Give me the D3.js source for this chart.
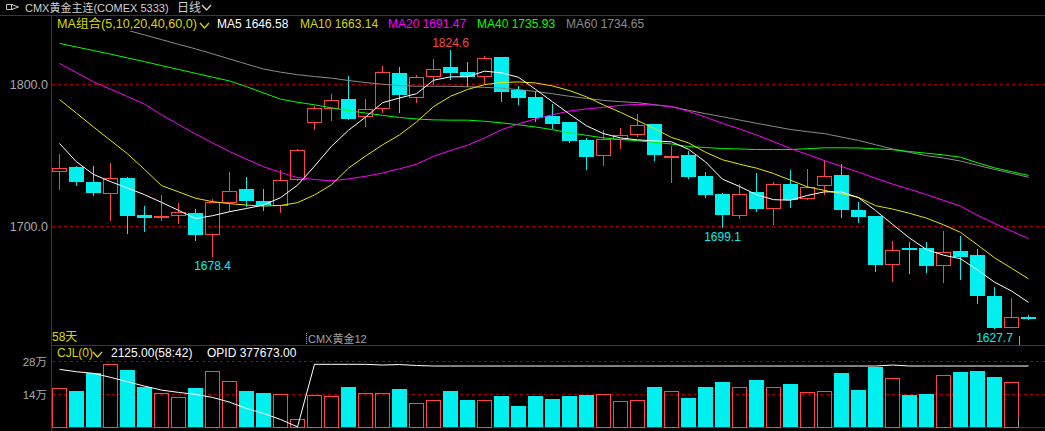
<!DOCTYPE html>
<html><head><meta charset="utf-8">
<script src="https://cdn.jsdelivr.net/npm/d3@7"></script>
<style>
html,body{margin:0;padding:0;background:#000;overflow:hidden;}
svg{display:block;}
text{font-family:"Liberation Sans","Noto Sans CJK SC",sans-serif;}
</style></head><body>
<svg id="c" width="1045" height="431"></svg>
<script>
// ---------- data ----------
const opens  = [1738.7,1741.8,1731.2,1723.0,1734.2,1708.2,1706.1,1707.3,1709.2,1693.7,1716.9,1726.3,1717.8,1714.5,1732.4,1773.2,1782.4,1789.6,1777.2,1782.4,1808.0,1790.8,1805.6,1812.2,1808.7,1805.4,1819.2,1796.0,1791.1,1777.9,1773.5,1760.8,1749.7,1761.0,1764.5,1772.0,1748.3,1750.2,1735.4,1723.2,1707.5,1724.2,1712.4,1729.8,1719.7,1728.2,1736.1,1711.5,1707.3,1672.9,1685.2,1684.7,1672.2,1682.6,1679.8,1650.9,1628.6,1636.3];
const highs  = [1751.4,1742.5,1742.5,1744.4,1734.9,1714.3,1722.0,1716.2,1712.4,1719.7,1738.2,1734.9,1726.3,1739.6,1754.9,1784.9,1793.2,1805.8,1789.6,1812.9,1812.2,1807.0,1817.8,1824.6,1815.7,1820.1,1819.6,1798.8,1795.5,1786.6,1773.8,1762.0,1767.8,1769.7,1779.1,1772.5,1756.5,1753.0,1738.2,1723.6,1729.8,1737.5,1731.0,1739.6,1740.4,1746.7,1743.7,1717.1,1707.6,1689.6,1688.9,1688.9,1696.7,1693.2,1684.5,1657.3,1649.7,1637.5];
const lows   = [1725.6,1728.6,1721.5,1703.9,1694.6,1696.2,1703.9,1702.1,1689.9,1678.4,1710.3,1713.8,1711.0,1709.2,1731.8,1768.3,1774.4,1775.0,1770.1,1779.6,1780.0,1787.0,1800.0,1803.5,1798.3,1800.2,1787.7,1785.4,1773.7,1768.5,1758.9,1739.6,1742.5,1754.6,1762.7,1746.2,1730.7,1733.1,1720.1,1699.1,1705.1,1710.1,1700.9,1713.1,1718.5,1722.0,1706.1,1702.5,1668.0,1661.0,1666.6,1667.3,1660.3,1662.2,1645.5,1627.7,1628.2,1634.5];
const closes = [1741.3,1731.4,1723.7,1734.0,1707.5,1706.1,1707.3,1709.9,1694.1,1717.6,1725.1,1718.0,1715.2,1732.6,1753.7,1783.1,1789.4,1775.8,1782.4,1808.5,1792.7,1805.6,1810.6,1808.2,1805.4,1819.0,1794.8,1790.6,1776.5,1772.3,1760.3,1749.0,1761.3,1764.1,1771.8,1750.4,1749.5,1734.9,1722.0,1708.2,1722.7,1712.2,1729.6,1719.0,1727.7,1735.4,1711.7,1706.8,1672.9,1683.8,1684.2,1672.2,1681.7,1678.4,1651.1,1628.6,1636.1,1635.0];

const ma5  = [1758.5,1745.5,1736.7,1731.6,1727.1,1722.4,1717.0,1711.4,1705.6,1707.6,1710.4,1712.7,1715.1,1720.3,1729.1,1742.5,1756.5,1767.8,1777.0,1787.2,1790.5,1793.5,1803.0,1805.4,1805.4,1809.4,1808.2,1805.1,1796.6,1787.8,1779.2,1770.9,1765.4,1762.4,1761.0,1760.3,1759.6,1754.4,1745.5,1733.3,1728.2,1722.4,1718.9,1718.5,1721.9,1724.4,1724.4,1720.3,1711.3,1701.5,1691.9,1683.8,1679.8,1677.3,1669.4,1660.8,1654.6,1646.58];
const ma10 = [1789.4,1779.8,1770.1,1760.6,1751.2,1740.2,1728.8,1724.4,1719.9,1717.5,1716.1,1715.1,1714.4,1714.8,1716.8,1722.2,1729.4,1741.1,1749.6,1757.5,1764.5,1773.6,1784.4,1791.7,1796.5,1799.9,1801.4,1801.8,1801.1,1799.0,1795.7,1791.3,1785.6,1780.4,1774.7,1768.9,1762.7,1758.9,1752.3,1747.0,1743.9,1741.1,1737.3,1732.6,1727.9,1725.4,1723.1,1720.5,1714.7,1712.3,1709.3,1705.9,1701.2,1695.9,1687.0,1678.0,1670.6,1663.14];
const ma20 = [1814.8,1808.3,1801.8,1796.7,1791.5,1786.2,1778.7,1771.8,1765.1,1758.9,1752.8,1747.4,1742.1,1738.1,1734.4,1733.1,1732.2,1733.5,1735.3,1737.7,1740.6,1743.9,1749.4,1753.5,1757.2,1762.3,1768.1,1772.3,1775.8,1778.7,1781.3,1782.8,1783.9,1785.3,1786.0,1785.5,1784.4,1781.1,1777.0,1772.7,1768.7,1764.5,1759.8,1754.9,1750.7,1746.4,1742.3,1738.2,1734.0,1729.9,1726.2,1722.5,1718.4,1714.3,1707.9,1702.1,1696.8,1691.47];
const ma40 = [1828.9,1826.4,1823.9,1821.4,1818.7,1816.1,1813.3,1810.6,1807.9,1805.2,1802.5,1798.5,1794.1,1789.7,1787.5,1785.7,1783.6,1781.6,1779.9,1778.3,1776.8,1775.7,1775.1,1774.9,1774.9,1774.1,1773.0,1771.6,1770.1,1768.2,1766.0,1764.2,1762.4,1761.3,1760.4,1759.3,1758.1,1756.3,1755.6,1754.9,1754.6,1754.2,1754.2,1754.2,1754.8,1755.4,1755.4,1755.3,1754.7,1754.1,1752.8,1751.6,1750.4,1748.8,1744.9,1741.3,1738.6,1735.93];
const ma60 = [1851.6,1848.2,1844.9,1841.5,1838.2,1834.9,1831.6,1828.3,1825.1,1821.6,1818.0,1814.4,1810.9,1808.7,1806.9,1805.6,1804.5,1802.8,1801.4,1800.2,1799.2,1798.8,1798.8,1798.7,1798.4,1798.0,1797.4,1796.4,1795.1,1793.5,1791.7,1790.2,1788.8,1787.9,1787.2,1785.8,1784.4,1781.8,1779.5,1777.3,1775.0,1772.7,1770.5,1768.3,1766.8,1765.4,1763.0,1760.6,1757.6,1754.6,1752.2,1749.9,1748.2,1746.1,1743.1,1740.2,1737.5,1734.65];

const volumes = [165000,154000,230000,267000,243000,170000,144000,127000,165000,238000,195000,154000,146000,140000,34000,136000,132000,171000,144000,144000,162000,102000,115000,154000,116000,115000,133000,90000,133000,120000,133000,137000,141000,110000,115000,171000,153000,124000,171000,192000,170000,201000,170000,184000,148000,153000,230000,158000,256000,208000,137000,141000,221000,235000,239000,213000,191000,2125];
const openInterest = [357400,342600,332700,308100,281000,254500,229800,215700,203300,184800,155900,117100,86300,49300,3700,388200,388200,388200,388200,383900,387000,380800,377700,377700,377700,377700,377700,377700,377700,377700,377700,377700,377700,377700,377700,377700,377700,377700,377700,377700,377700,377700,377700,377700,377700,377700,377700,377700,377700,383900,377700,377700,377700,377700,377700,377700,377700,377673];

const priceTicks = [1700, 1800];
const volumeTicks = [140000, 280000];
const extremeLabels = [
  {i: 23, value: 1824.6, kind: "high"},
  {i: 9,  value: 1678.4, kind: "low"},
  {i: 39, value: 1699.1, kind: "low"},
  {i: 55, value: 1627.7, kind: "low"}
];
const maSeries = [
  {name: "MA5",  values: ma5,  color: "#ffffff"},
  {name: "MA10", values: ma10, color: "#e6e600"},
  {name: "MA20", values: ma20, color: "#ff00ff"},
  {name: "MA40", values: ma40, color: "#00ff00"},
  {name: "MA60", values: ma60, color: "#8c8c8c"}
];

// ---------- layout ----------
const W = 1045, H = 431;
const RED = "#ff4444", CYAN = "#00f0f0", FRAME = "#c00000", GRID = "#9a0000";
const svg = d3.select("#c");

const x  = d3.scaleLinear().domain([0, opens.length - 1]).range([59, 59 + 17 * (opens.length - 1)]);
const y  = d3.scaleLinear().domain([1700, 1800]).range([226.5, 84.5]);
const yv = d3.scaleLinear().domain([0, 280000]).range([427.5, 361.5]);
const yo = d3.scaleLinear().domain([0, 400000]).range([427.5, 362.4]);

const defs = svg.append("defs");
defs.append("clipPath").attr("id", "mainClip").append("rect").attr("x", 52).attr("y", 31).attr("width", W - 52).attr("height", 314);
defs.append("clipPath").attr("id", "volClip").append("rect").attr("x", 52).attr("y", 359).attr("width", W - 52).attr("height", 69);

// frame lines
const frame = svg.append("g").attr("stroke", FRAME).attr("stroke-width", 1).attr("shape-rendering", "crispEdges");
frame.append("line").attr("x1", 0).attr("x2", W).attr("y1", 15.5).attr("y2", 15.5);
frame.append("line").attr("x1", 51.5).attr("x2", 51.5).attr("y1", 16).attr("y2", H);
frame.append("line").attr("x1", 52).attr("x2", W).attr("y1", 345.5).attr("y2", 345.5);
frame.append("line").attr("x1", 52).attr("x2", W).attr("y1", 427.5).attr("y2", 427.5);

// grid + axis labels (price)
const gp = svg.append("g");
priceTicks.forEach(t => {
  const yy = Math.round(y(t) - 0.5) + 0.5;
  gp.append("line").attr("x1", 52).attr("x2", W).attr("y1", yy).attr("y2", yy)
    .attr("stroke", GRID).attr("stroke-dasharray", "3,3").attr("shape-rendering", "crispEdges");
  gp.append("text").attr("x", 48).attr("y", yy + 4.5).attr("text-anchor", "end")
    .attr("fill", "#a8a8b0").attr("font-size", 12.5).text(d3.format(".1f")(t));
});
// grid + axis labels (volume)
volumeTicks.forEach(t => {
  const yy = Math.round(yv(t) - 0.5) + 0.5;
  gp.append("line").attr("x1", 52).attr("x2", W).attr("y1", yy).attr("y2", yy)
    .attr("stroke", GRID).attr("stroke-dasharray", "3,3").attr("shape-rendering", "crispEdges");
  gp.append("text").attr("x", 47).attr("y", yy + 4.5).attr("text-anchor", "end")
    .attr("fill", "#a8a8b0").attr("font-size", 11.5).text((t / 10000) + "万");
});

// candles
const gc = svg.append("g").attr("clip-path", "url(#mainClip)").attr("shape-rendering", "crispEdges");
opens.forEach((o, i) => {
  const c = closes[i], cx = x(i), left = cx - 7;
  const up = c > o;
  const yTop = Math.round(y(Math.max(o, c))), yBot = Math.round(y(Math.min(o, c)));
  const yHi = Math.round(y(highs[i])), yLo = Math.round(y(lows[i]));
  if (up) {
    gc.append("line").attr("x1", cx + 0.5).attr("x2", cx + 0.5).attr("y1", yHi).attr("y2", yTop).attr("stroke", RED);
    gc.append("line").attr("x1", cx + 0.5).attr("x2", cx + 0.5).attr("y1", yBot).attr("y2", yLo).attr("stroke", RED);
    gc.append("rect").attr("x", left + 0.5).attr("y", yTop + 0.5).attr("width", 14)
      .attr("height", Math.max(1, yBot - yTop - 1)).attr("fill", "none").attr("stroke", RED);
  } else {
    gc.append("line").attr("x1", cx + 0.5).attr("x2", cx + 0.5).attr("y1", yHi).attr("y2", yLo).attr("stroke", CYAN);
    gc.append("rect").attr("x", left).attr("y", yTop).attr("width", 15)
      .attr("height", Math.max(2, yBot - yTop)).attr("fill", CYAN);
  }
});

// MA lines
const gl = svg.append("g").attr("clip-path", "url(#mainClip)");
const line = d3.line().x((d, i) => x(i) + 0.5).y(d => y(d));
maSeries.slice().reverse().forEach(s => {
  gl.append("path").attr("d", line(s.values)).attr("fill", "none").attr("stroke", s.color).attr("stroke-width", 1);
});

// extreme labels
extremeLabels.forEach(l => {
  const yy = l.kind === "high" ? Math.round(y(l.value)) - 3 : Math.round(y(l.value)) + 13;
  svg.append("text").attr("x", x(l.i) + 0.5).attr("y", yy).attr("text-anchor", "middle")
    .attr("font-size", 12).attr("fill", l.kind === "high" ? RED : CYAN).text(d3.format(".1f")(l.value));
});

// volume bars
const gv = svg.append("g").attr("clip-path", "url(#volClip)").attr("shape-rendering", "crispEdges");
volumes.forEach((v, i) => {
  const cx = x(i), left = cx - 7;
  const top = Math.round(yv(v) - 0.5);
  if (427 - top < 2) return;
  if (closes[i] > opens[i]) {
    gv.append("rect").attr("x", left + 0.5).attr("y", top + 0.5).attr("width", 14).attr("height", 427 - top)
      .attr("fill", "none").attr("stroke", RED);
  } else {
    gv.append("rect").attr("x", left).attr("y", top).attr("width", 15).attr("height", 427 - top).attr("fill", CYAN);
  }
});
// open interest line
svg.append("path").attr("clip-path", "url(#volClip)")
  .attr("d", d3.line().x((d, i) => x(i) + 0.5).y(d => yo(d))(openInterest))
  .attr("fill", "none").attr("stroke", "#ffffff").attr("stroke-width", 1);

// cursor ticks
svg.append("line").attr("x1", 1019.5).attr("x2", 1019.5).attr("y1", 336).attr("y2", 345).attr("stroke", "#a0a0a0");
svg.append("line").attr("x1", 1018.5).attr("x2", 1018.5).attr("y1", 418).attr("y2", 427).attr("stroke", "#a0a0a0");

// contract switch marker
svg.append("line").attr("x1", 306.5).attr("x2", 306.5).attr("y1", 333).attr("y2", 345)
  .attr("stroke", "#a0a0a0").attr("stroke-dasharray", "1,1");
svg.append("text").attr("x", 308).attr("y", 342.5).attr("font-size", 11).attr("fill", "#a0a0a0").text("CMX黄金12");

// header
function chevron(x0, y0, w, h, color) {
  svg.append("path").attr("d", `M${x0},${y0}L${x0 + w / 2},${y0 + h}L${x0 + w},${y0}`)
    .attr("fill", "none").attr("stroke", color).attr("stroke-width", 1.3);
}
svg.append("path").attr("d", "M13,4.5H6.5V9.5H13M11.5,4.5L18.5,7L11.5,9.5Z")
  .attr("fill", "none").attr("stroke", "#c8c8c8").attr("stroke-width", 1);
svg.append("text").attr("x", 25).attr("y", 11.5).attr("font-size", 11).attr("fill", "#d0d0d0")
  .text("CMX黄金主连(COMEX 5333)");
svg.append("text").attr("x", 177).attr("y", 11.5).attr("font-size", 12).attr("fill", "#d0d0d0").text("日线");
chevron(202, 5, 9, 5, "#d0d0d0");

// MA legend row
svg.append("text").attr("x", 57).attr("y", 28).attr("font-size", 12).attr("fill", "#d8d800")
  .attr("textLength", 140).attr("lengthAdjust", "spacingAndGlyphs").text("MA组合(5,10,20,40,60,0)");
chevron(200, 23, 9, 5, "#d8d800");
const legendX = [217, 300, 388, 477, 566];
maSeries.forEach((s, k) => {
  const last = s.values[s.values.length - 1];
  svg.append("text").attr("x", legendX[k]).attr("y", 28).attr("font-size", 12)
    .attr("fill", s.name === "MA10" ? "#d8d800" : s.color).text(`${s.name} ${d3.format(".2f")(last)}`);
});

svg.append("text").attr("x", 52).attr("y", 341).attr("font-size", 12).attr("fill", "#d8d800").text(opens.length + "天");

// volume legend row
svg.append("text").attr("x", 57).attr("y", 357).attr("font-size", 12).attr("fill", "#d8d800").text("CJL(0)");
chevron(93, 352, 9, 5, "#d8d800");
svg.append("text").attr("x", 111).attr("y", 357).attr("font-size", 12).attr("fill", "#ffffff")
  .text(d3.format(".2f")(volumes[volumes.length - 1]) + "(58:42)");
svg.append("text").attr("x", 207).attr("y", 357).attr("font-size", 12).attr("fill", "#ffffff")
  .text("OPID " + d3.format(".2f")(openInterest[openInterest.length - 1]));
</script>
</body></html>
